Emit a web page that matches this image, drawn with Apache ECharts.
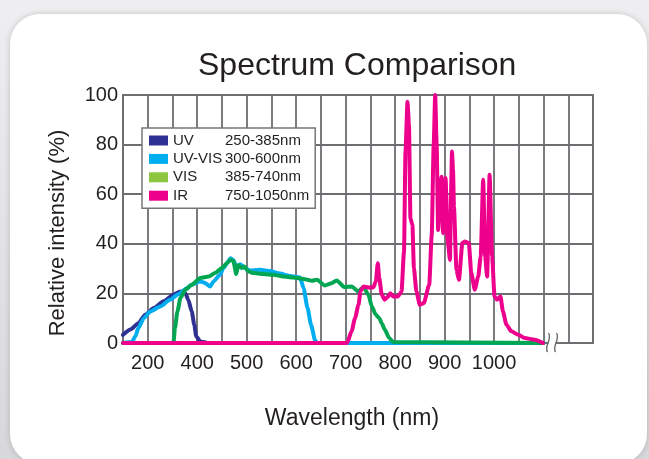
<!DOCTYPE html>
<html><head><meta charset="utf-8">
<script src="https://cdn.jsdelivr.net/npm/echarts@6/dist/echarts.min.js"></script>
<style>
html,body{margin:0;padding:0;width:649px;height:459px;overflow:hidden;
  background:linear-gradient(180deg,#efeff1 0%,#e4e4e6 45%,#d8d8da 100%);}
#panel{position:absolute;left:10px;top:14px;width:637px;height:450px;background:#fff;
  border-radius:30px;box-shadow:0 0 6px rgba(0,0,0,0.18);}
#c{position:absolute;left:0;top:0;width:649px;height:459px;}
</style></head><body><div id="panel"></div><div id="c"></div>
<script>
const FONT = '"Liberation Sans", Arial, Helvetica, sans-serif';
const TEXT = '#231f20';
const GRIDC = '#6d6e71';

// x tick positions (linear nm scale) and the labels printed under them
const xTickValues = [300, 400, 500, 600, 700, 800, 900, 1000];
const xTickLabels = ['200', '400', '500', '600', '700', '800', '900', '1000'];

const seriesNames  = ['UV', 'UV-VIS', 'VIS', 'IR'];
const seriesRanges = ['250-385nm', '300-600nm', '385-740nm', '750-1050nm'];
const lineColors   = ['#2e3192', '#00aeef', '#00a651', '#ec008c'];
const swatchColors = ['#2e3192', '#00aeef', '#8dc63f', '#ec008c'];

const uvWl  = [250, 265, 281, 295, 312, 332, 352, 366, 376, 382, 389, 394, 398, 406, 420];
const uvVal = [3.3, 5.4, 8.0, 11.4, 14.1, 16.8, 19.5, 20.8, 20.1, 17.4, 12.7, 7.4, 2.7, 0.6, 0];

const uvvisWl  = [250, 268, 275, 281, 292, 305, 325, 345, 362, 379, 389, 406, 416, 426, 433, 446, 453, 463, 467, 473, 480, 487, 497, 507, 527, 547, 567, 588, 608, 615, 623, 630, 638, 642, 1100];
const uvvisVal = [0, 0.4, 2.7, 6.0, 10.0, 12.7, 14.7, 17.4, 19.7, 22.1, 23.5, 24.8, 24.2, 22.8, 24.8, 27.5, 30.2, 32.9, 34.2, 33.5, 30.5, 31.8, 30.2, 29.2, 29.5, 29.0, 28.0, 27.0, 26.4, 22.1, 14.1, 7.4, 1.3, 0, 0];

const visWl  = [250, 352, 355, 360, 366, 376, 389, 406, 423, 436, 450, 460, 467, 473, 479, 483, 490, 495, 504, 514, 534, 554, 574, 594, 615, 632, 642, 658, 670, 682, 697, 712, 726, 736, 746, 753, 761, 768, 773, 779, 788, 796, 1100];
const visVal = [0, 0, 6.0, 12.7, 18.1, 21.5, 23.5, 26.2, 26.8, 28.2, 30.2, 32.2, 33.5, 33.1, 27.8, 31.5, 30.2, 30.8, 28.8, 28.2, 27.8, 27.5, 26.8, 26.4, 25.8, 25.1, 25.5, 23.2, 24.0, 25.2, 22.6, 22.8, 20.8, 22.6, 19.5, 14.7, 11.4, 10.0, 8.0, 5.4, 2.0, 0.4, 0];

const irWl  = [250, 703, 712, 719, 726, 730, 736, 746, 756, 761, 765, 768, 773, 779, 786, 790, 796, 806, 813, 818, 821, 825, 828, 831, 835, 838, 843, 850, 858, 869, 874, 878, 881, 884, 887, 891, 894, 897, 900, 902, 906, 911, 913, 915, 917, 919, 924, 929, 936, 941, 949, 954, 961, 968, 973, 978, 982, 986, 991, 996, 1001, 1006, 1013, 1018, 1025, 1035, 1049, 1062, 1082, 1099];
const irVal = [0, 0, 4.7, 10.0, 15.4, 20.8, 22.8, 22.4, 22.4, 24.8, 32.2, 26.2, 19.5, 17.4, 18.8, 20.1, 18.8, 18.8, 20.8, 36.9, 77.2, 97.3, 87.9, 50.3, 47.6, 30.2, 20.8, 15.4, 16.1, 23.5, 43.6, 80.0, 100, 80.0, 45.6, 62.0, 67.0, 44.3, 60.0, 66.5, 41.6, 33.5, 60.0, 77.2, 70.0, 55.0, 29.5, 25.5, 40.3, 40.9, 40.3, 28.2, 21.5, 26.8, 34.9, 65.8, 34.9, 26.8, 67.8, 34.9, 18.8, 17.4, 18.8, 12.7, 7.4, 4.7, 3.3, 2.0, 1.3, 0];

const wls  = [uvWl, uvvisWl, visWl, irWl];
const vals = [uvVal, uvvisVal, visVal, irVal];

const chart = echarts.init(document.getElementById('c'), null, {renderer: 'canvas'});

const series = seriesNames.map((name, i) => ({
  name: name,
  type: 'line',
  data: wls[i].map((w, k) => [w, vals[i][k]]),
  showSymbol: false,
  symbol: 'none',
  smooth: 0.2,
  smoothMonotone: 'x',
  z: 2 + i,
  itemStyle: {color: lineColors[i]},
  lineStyle: {color: lineColors[i], width: 4, cap: 'round', join: 'round'},
  animation: false
}));

chart.setOption({
  backgroundColor: 'transparent',
  animation: false,
  title: {
    text: 'Spectrum Comparison',
    left: 193, top: 45,
    textStyle: {fontFamily: FONT, fontSize: 32, fontWeight: 'normal', color: TEXT}
  },
  grid: {
    left: 123, top: 95, width: 470, height: 248,
    show: true, borderColor: GRIDC, borderWidth: 1.8, backgroundColor: 'transparent'
  },
  legend: {
    orient: 'vertical',
    left: 142, top: 128,
    padding: [4, 6, 4, 7],
    itemGap: 1.4,
    itemWidth: 19, itemHeight: 10,
    icon: 'rect',
    selectedMode: false,
    backgroundColor: '#fff',
    borderColor: '#777',
    borderWidth: 1.5,
    borderRadius: 0,
    data: seriesNames.map((n, i) => ({name: n, itemStyle: {color: swatchColors[i], borderWidth: 0}})),
    formatter: function (name) {
      const i = seriesNames.indexOf(name);
      return '{n|' + name + '}{r|' + seriesRanges[i] + '}';
    },
    textStyle: {
      fontFamily: FONT, fontSize: 15, color: TEXT, lineHeight: 17,
      rich: {
        n: {width: 52, fontFamily: FONT, fontSize: 15, color: TEXT},
        r: {fontFamily: FONT, fontSize: 15, color: TEXT}
      }
    }
  },
  xAxis: {
    type: 'value', min: 250, max: 1200, interval: 50,
    name: 'Wavelength (nm)', nameLocation: 'middle', nameGap: 64,
    nameTextStyle: {fontFamily: FONT, fontSize: 23, color: TEXT, padding: [0, 12, 0, 0]},
    axisLine: {show: false},
    axisTick: {show: false},
    splitLine: {show: true, lineStyle: {color: GRIDC, width: 1.8}},
    axisLabel: {
      margin: 10, fontFamily: FONT, fontSize: 20, color: TEXT,
      formatter: function (v) {
        const i = xTickValues.indexOf(v);
        return i >= 0 ? xTickLabels[i] : '';
      }
    }
  },
  yAxis: {
    type: 'value', min: 0, max: 100, interval: 20,
    name: 'Relative intensity (%)', nameLocation: 'middle', nameGap: 54,
    nameTextStyle: {fontFamily: FONT, fontSize: 22, color: TEXT, padding: [0, 28, 0, 0]},
    axisLine: {show: false},
    axisTick: {show: false},
    splitLine: {show: true, lineStyle: {color: GRIDC, width: 1.8}},
    axisLabel: {margin: 5, fontFamily: FONT, fontSize: 20, color: TEXT}
  },
  series: series
});

// axis-break mark at the right end of the data
const p = chart.convertToPixel({gridIndex: 0}, [1100, 0]);
function squiggle(x, y) {
  return {
    type: 'bezierCurve', z: 100,
    shape: {x1: x + 1, y1: y - 10, cpx1: x + 5, cpy1: y - 3, cpx2: x - 4, cpy2: y + 3, x2: x, y2: y + 9},
    style: {stroke: GRIDC, lineWidth: 1.4, fill: null}
  };
}
chart.setOption({
  graphic: [
    {type: 'rect', z: 99, shape: {x: p[0] + 5, y: p[1] - 2, width: 7, height: 4}, style: {fill: '#fff'}},
    squiggle(p[0] + 4, p[1]),
    squiggle(p[0] + 12, p[1])
  ]
});
</script></body></html>
